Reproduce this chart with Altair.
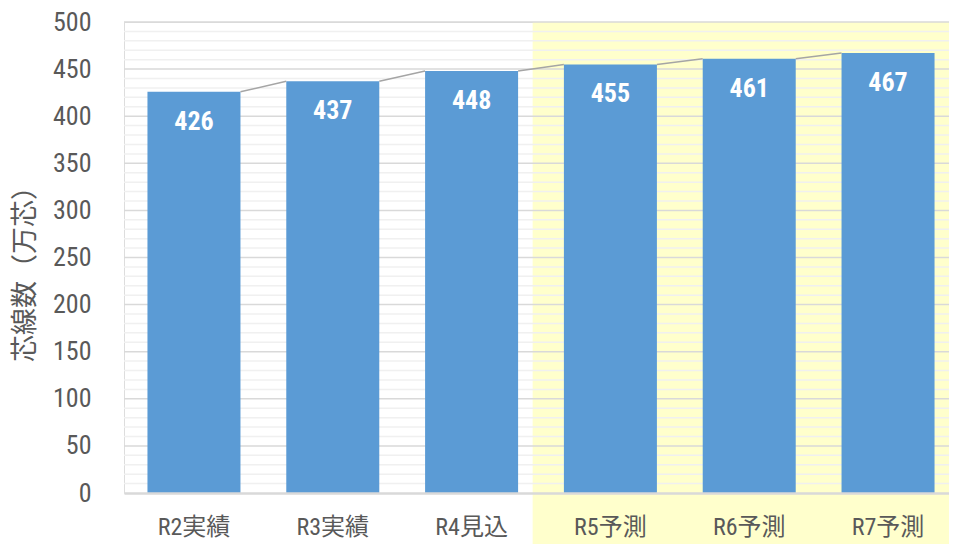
import altair as alt
import pandas as pd

categories = ["R2実績", "R3実績", "R4見込", "R5予測", "R6予測", "R7予測"]
values = [426, 437, 448, 455, 461, 467]
# forecast shading: starts just before the R5 slot (in slot units) and runs to the right edge
shade_start = [2.94]
shade_end = [6.2]
y_ticks = [0, 50, 100, 150, 200, 250, 300, 350, 400, 450, 500]
minor_ticks = [v for v in range(10, 500, 10) if v % 50 != 0]
major_ticks = [v for v in y_ticks if v > 0]

W = 825      # visible plot width (page is only 941px wide inside its margins)
RANGE = 834  # the category axis runs slightly past the right edge, as in the reference
H = 471

NUM_FONT = "'Liberation Sans Narrow', 'Roboto Condensed', 'DejaVu Sans Condensed', 'Noto Sans CJK JP', sans-serif"
JP_FONT = "'Noto Sans CJK JP', 'Noto Sans CJK SC', sans-serif"

df = pd.DataFrame({"cat": categories, "value": values})
conn = pd.DataFrame({
    "cat": categories[:-1],
    "next": categories[1:],
    "value": values[:-1],
    "next_value": values[1:],
})
minor_df = pd.DataFrame({"v": minor_ticks})
major_df = pd.DataFrame({"v": major_ticks})
band_df = pd.DataFrame({"s": shade_start, "e": shade_end})

xscale = alt.Scale(domain=categories, paddingInner=0.33, paddingOuter=0.169, range=[0, RANGE])
yscale = alt.Scale(domain=[0, 500], nice=False)

xaxis = alt.Axis(
    title=None, labelAngle=0, ticks=False, tickSize=0, labelPadding=22,
    labelFont=NUM_FONT, labelFontSize=24, labelColor="#595959",
    domainColor="#D9D9D9", domainWidth=2.5, zindex=1, grid=False,
)
yaxis = alt.Axis(
    title="芯線数（万芯）", values=y_ticks, ticks=False, tickSize=0, domain=False, grid=False,
    labelPadding=33, labelFont=NUM_FONT, labelFontSize=26, labelColor="#595959",
    titleFont=JP_FONT, titleFontSize=27, titleColor="#595959", titleFontWeight="normal",
    titleAngle=-90, titleX=-99, titleY=245, titleAlign="center", titleBaseline="middle",
)

yellow = alt.Chart(band_df).mark_rect(color="#FFFFCC").encode(
    x=alt.X("s:Q", scale=alt.Scale(domain=[0, 6], nice=False, zero=False, range=[0, RANGE]), axis=None),
    x2="e:Q",
    y=alt.value(0),
    y2=alt.value(H + 60),
)

minor = alt.Chart(minor_df).mark_rule(color="#F0F0F0", strokeWidth=1.5).encode(
    y=alt.Y("v:Q", scale=yscale, axis=yaxis),
    x=alt.value(0), x2=alt.value(W + 20),
)
major = alt.Chart(major_df).mark_rule(color="#D9D9D9", strokeWidth=1.5).encode(
    y=alt.Y("v:Q", scale=yscale),
    x=alt.value(0), x2=alt.value(W + 20),
)

bars = alt.Chart(df).mark_bar(color="#5B9BD5").encode(
    x=alt.X("cat:N", scale=xscale, sort=categories, axis=xaxis),
    y=alt.Y("value:Q", scale=yscale),
)

lines = alt.Chart(conn).mark_rule(color="#A5A5A5", strokeWidth=1.5).encode(
    x=alt.X("cat:N", scale=xscale, bandPosition=1),
    x2=alt.X2("next:N", bandPosition=0),
    y=alt.Y("value:Q", scale=yscale),
    y2=alt.Y2("next_value:Q"),
)

labels = alt.Chart(df).mark_text(
    color="white", font=NUM_FONT, fontSize=26, fontWeight="bold",
    baseline="middle", align="center", dy=30,
).encode(
    x=alt.X("cat:N", scale=xscale),
    y=alt.Y("value:Q", scale=yscale),
    text=alt.Text("value:Q"),
)

main = alt.layer(bars, lines, labels)

chart = alt.layer(yellow, minor, major, main).resolve_scale(x="independent").properties(
    width=W, height=H,
    autosize=alt.AutoSizeParams(type="none"),
    padding={"left": 116, "top": 14, "right": 0, "bottom": 51},
).configure_view(stroke=None).configure(background="white")

chart.save("out.html", embed_options={"renderer": "svg", "actions": False})
